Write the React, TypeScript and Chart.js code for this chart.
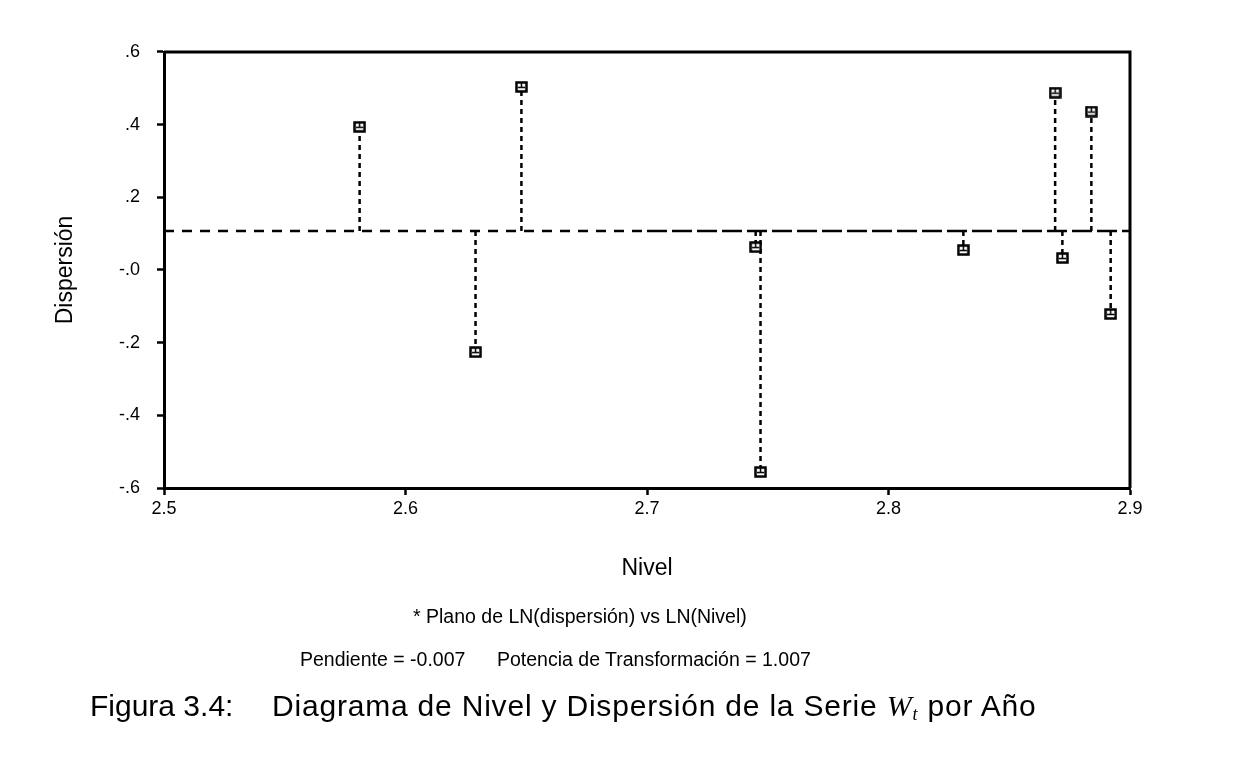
import React, { useEffect, useRef } from "react";
import { Chart, registerables } from "chart.js";

Chart.register(...registerables);

// ---- data ----
const nivel = [2.581, 2.629, 2.648, 2.745, 2.747, 2.831, 2.869, 2.872, 2.884, 2.892];
const dispersion = [0.394, -0.226, 0.504, 0.063, -0.556, 0.055, 0.488, 0.033, 0.436, -0.121];
const meanDispersion = 0.107;
const meanLineBreaks = [2.5, 2.7, 2.9];
const xTickLabels = ["2.5", "2.6", "2.7", "2.8", "2.9"];
const yTickLabels = ["-.6", "-.4", "-.2", "-.0", ".2", ".4", ".6"];

const FONT = "'Liberation Sans', Arial, Helvetica, sans-serif";

function makeMarker(): HTMLCanvasElement {
  const c = document.createElement("canvas");
  c.width = 13;
  c.height = 12;
  const g = c.getContext("2d")!;
  g.fillStyle = "#fff";
  g.fillRect(1, 1, 11, 10);
  g.strokeStyle = "#000";
  g.lineWidth = 2.5;
  g.strokeRect(1.5, 1.5, 10, 9);
  g.lineWidth = 1.5;
  g.beginPath();
  g.moveTo(3, 6.5);
  g.lineTo(10, 6.5);
  g.moveTo(6.5, 2);
  g.lineTo(6.5, 6.5);
  g.stroke();
  return c;
}

export default function App() {
  const ref = useRef<HTMLCanvasElement | null>(null);

  useEffect(() => {
    if (!ref.current) return;
    const marker = makeMarker();

    const dropData: { x: number; y: number | null }[] = [];
    nivel.forEach((x, i) => {
      dropData.push({ x, y: meanDispersion });
      dropData.push({ x, y: dispersion[i] });
      dropData.push({ x, y: null });
    });

    const framePlugin = {
      id: "frame",
      afterDraw(chart: any) {
        const { ctx, chartArea } = chart;
        ctx.save();
        ctx.strokeStyle = "#000";
        ctx.lineWidth = 3;
        ctx.beginPath();
        ctx.moveTo(chartArea.left, chartArea.top);
        ctx.lineTo(chartArea.right, chartArea.top);
        ctx.lineTo(chartArea.right, chartArea.bottom);
        ctx.stroke();
        ctx.restore();
      },
    };

    const chart = new Chart(ref.current, {
      type: "scatter",
      data: {
        datasets: [
          {
            type: "scatter",
            data: nivel.map((x, i) => ({ x, y: dispersion[i] })),
            pointStyle: marker as any,
            pointRadius: 6,
            order: 0,
          } as any,
          {
            type: "line",
            data: dropData,
            borderColor: "#000",
            borderWidth: 2.5,
            borderDash: [5, 4],
            pointRadius: 0,
            spanGaps: false,
            fill: false,
            order: 1,
          } as any,
          {
            type: "line",
            data: meanLineBreaks.map((x) => ({ x, y: meanDispersion })),
            borderColor: "#000",
            borderWidth: 2.5,
            pointRadius: 0,
            fill: false,
            segment: {
              borderDash: (c: any) => (c.p0DataIndex === 0 ? [10, 8] : [20, 5]),
            },
            order: 2,
          } as any,
        ],
      },
      options: {
        responsive: false,
        animation: false,
        devicePixelRatio: 1,
        layout: { padding: { left: 0, top: 52, right: 120, bottom: 0 } },
        plugins: { legend: { display: false }, tooltip: { enabled: false } },
        scales: {
          x: {
            type: "linear",
            min: 2.5,
            max: 2.9,
            afterFit: (s: any) => {
              s.height = 281;
            },
            afterBuildTicks: (s: any) => {
              s.ticks = xTickLabels.map((l) => ({ value: parseFloat(l) }));
            },
            ticks: {
              callback: (_v: any, i: number) => xTickLabels[i],
              color: "#000",
              font: { family: FONT, size: 18 },
              padding: 3,
              maxRotation: 0,
            },
            grid: {
              display: true,
              drawOnChartArea: false,
              drawTicks: true,
              tickLength: 7,
              tickWidth: 2.5,
              tickColor: "#000",
            },
            border: { display: true, color: "#000", width: 3 },
            title: {
              display: true,
              text: "Nivel",
              color: "#000",
              font: { family: FONT, size: 23 },
              padding: { top: 0, bottom: 187 },
            },
          },
          y: {
            type: "linear",
            min: -0.6,
            max: 0.6,
            afterFit: (s: any) => {
              s.width = 164;
            },
            afterBuildTicks: (s: any) => {
              s.ticks = yTickLabels.map((_l, i) => ({ value: -0.6 + i * 0.2 }));
            },
            ticks: {
              callback: (_v: any, i: number) => yTickLabels[i],
              color: "#000",
              font: { family: FONT, size: 18 },
              padding: 17,
            },
            grid: {
              display: true,
              drawOnChartArea: false,
              drawTicks: true,
              tickLength: 7,
              tickWidth: 2.5,
              tickColor: "#000",
            },
            border: { display: true, color: "#000", width: 3 },
            title: {
              display: true,
              text: "Dispersión",
              color: "#000",
              font: { family: FONT, size: 23 },
              padding: { top: 52, bottom: 0 },
            },
          },
        },
      },
      plugins: [framePlugin],
    });

    return () => chart.destroy();
  }, []);

  const textBase: React.CSSProperties = {
    position: "absolute",
    fontFamily: FONT,
    color: "#000",
    whiteSpace: "pre",
    lineHeight: 1,
  };

  return (
    <div
      style={{
        position: "absolute",
        left: 0,
        top: 0,
        width: 1250,
        height: 769,
        background: "#fff",
        overflow: "hidden",
      }}
    >
      <canvas ref={ref} width={1250} height={769} style={{ display: "block" }} />
      <div style={{ ...textBase, left: 413, top: 607, fontSize: 19.5 }}>
        * Plano de LN(dispersión) vs LN(Nivel)
      </div>
      <div style={{ ...textBase, left: 300, top: 650, fontSize: 19.5 }}>
        Pendiente = -0.007
      </div>
      <div style={{ ...textBase, left: 497, top: 650, fontSize: 19.5 }}>
        Potencia de Transformación = 1.007
      </div>
      <div style={{ ...textBase, left: 90, top: 691, fontSize: 30 }}>
        Figura 3.4:
      </div>
      <div
        style={{
          ...textBase,
          left: 272,
          top: 691,
          fontSize: 30,
          letterSpacing: 0.8,
        }}
      >
        Diagrama de Nivel y Dispersión de la Serie{" "}
        <span style={{ fontFamily: "'Liberation Serif', 'Times New Roman', serif", fontStyle: "italic" }}>
          W
          <sub style={{ fontSize: 18, verticalAlign: -4 }}>t</sub>
        </span>{" "}
        por Año
      </div>
    </div>
  );
}
